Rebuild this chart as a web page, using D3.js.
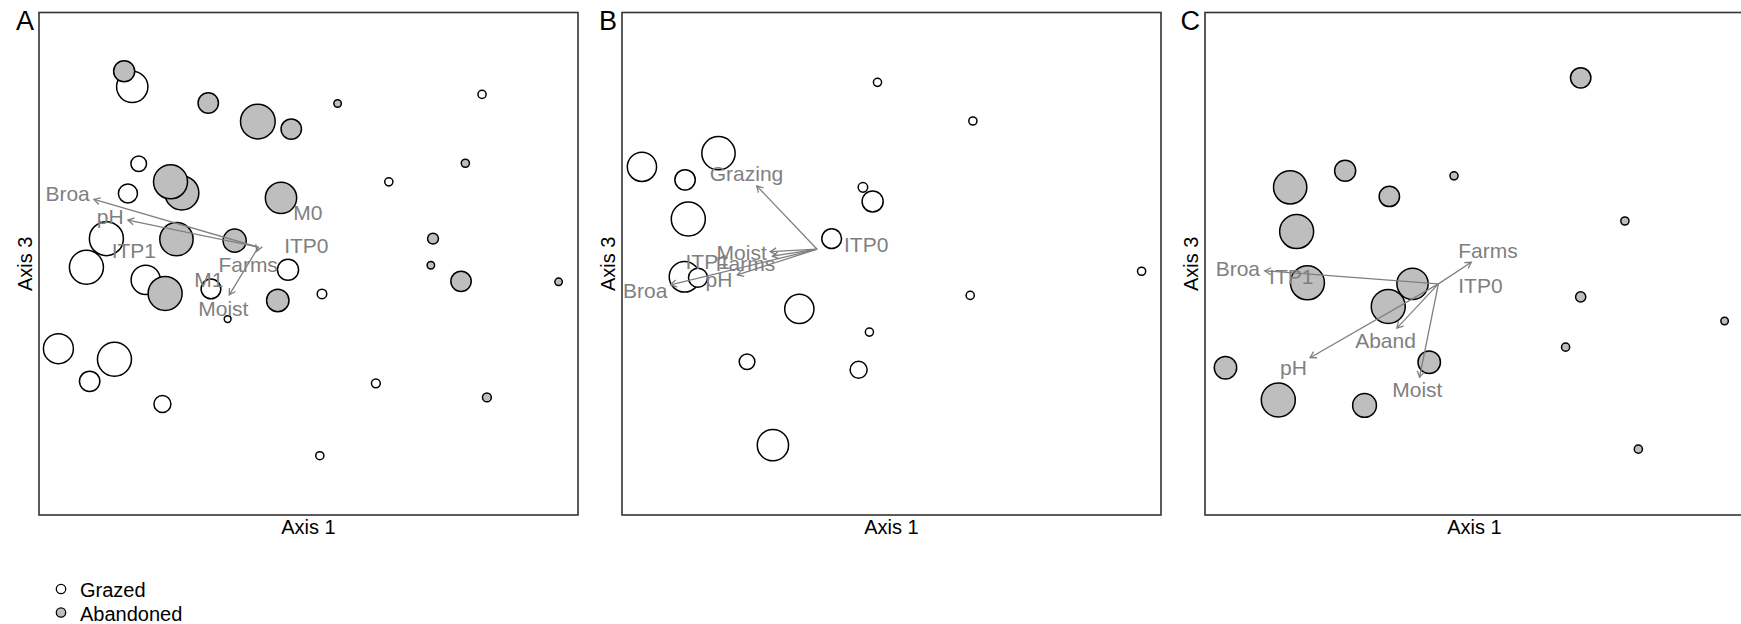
<!DOCTYPE html>
<html>
<head>
<meta charset="utf-8">
<script src="https://cdn.jsdelivr.net/npm/d3@7"></script>
<style>
  html, body { margin: 0; padding: 0; background: #fff; }
  svg { display: block; font-family: "Liberation Sans", Arial, sans-serif; }
</style>
</head>
<body>
<div id="chart"></div>
<script>
// sites: [axis1, axis3, size (cex), group]  G = grazed, A = abandoned
const sitesA = [
  [15.8, 88.3, 3.1, "A"], [17.3, 85.2, 4.6, "G"], [31.4, 82.0, 3.0, "A"],
  [40.6, 78.3, 5.1, "A"], [46.8, 76.8, 3.0, "A"], [55.4, 81.9, 1.1, "A"],
  [82.2, 83.7, 1.2, "G"], [18.5, 69.9, 2.3, "G"], [26.5, 64.1, 5.0, "A"],
  [24.4, 66.3, 5.0, "A"], [16.5, 64.0, 2.8, "G"], [44.9, 63.1, 4.6, "A"],
  [64.9, 66.3, 1.2, "G"], [79.1, 70.0, 1.2, "A"], [12.5, 55.0, 5.0, "G"],
  [25.5, 54.9, 4.9, "A"], [36.3, 54.6, 3.4, "A"], [73.1, 55.0, 1.6, "A"],
  [8.8, 49.3, 5.0, "G"], [19.8, 46.8, 4.3, "G"], [46.2, 48.8, 3.1, "G"],
  [72.7, 49.7, 1.1, "A"], [78.3, 46.5, 3.0, "A"], [96.4, 46.4, 1.1, "A"],
  [23.4, 44.1, 5.0, "A"], [31.9, 45.0, 2.9, "G"], [44.3, 42.7, 3.3, "A"],
  [52.5, 44.0, 1.4, "G"], [35.0, 39.0, 1.0, "G"], [3.6, 33.1, 4.4, "G"],
  [14.0, 31.0, 5.0, "G"], [9.4, 26.6, 3.0, "G"], [22.9, 22.1, 2.5, "G"],
  [62.5, 26.2, 1.3, "G"], [83.1, 23.4, 1.3, "A"], [52.1, 11.8, 1.2, "G"]
];
const sitesB = [
  [47.4, 86.1, 1.2, "G"], [65.1, 78.4, 1.2, "G"], [17.9, 72.0, 4.9, "G"],
  [3.7, 69.3, 4.3, "G"], [11.7, 66.7, 3.0, "G"], [44.7, 65.2, 1.4, "G"],
  [46.5, 62.4, 3.1, "G"], [12.3, 58.9, 5.0, "G"], [38.9, 55.0, 2.9, "G"],
  [11.6, 47.4, 4.5, "G"], [14.1, 47.2, 2.8, "G"], [96.4, 48.5, 1.2, "G"],
  [64.6, 43.7, 1.2, "G"], [32.9, 41.0, 4.3, "G"], [45.9, 36.4, 1.2, "G"],
  [23.2, 30.5, 2.3, "G"], [43.9, 28.9, 2.5, "G"], [28.0, 13.9, 4.6, "G"]
];
const sitesC = [
  [69.7, 87.0, 3.0, "A"], [26.0, 68.5, 3.1, "A"], [46.2, 67.5, 1.2, "A"],
  [15.8, 65.2, 4.9, "A"], [34.2, 63.4, 3.0, "A"], [77.9, 58.5, 1.2, "A"],
  [17.0, 56.4, 5.0, "A"], [19.0, 46.2, 5.0, "A"], [38.5, 46.0, 4.6, "A"],
  [69.7, 43.4, 1.5, "A"], [34.0, 41.5, 5.0, "A"], [96.4, 38.6, 1.1, "A"],
  [66.9, 33.4, 1.2, "A"], [3.8, 29.3, 3.3, "A"], [41.6, 30.4, 3.3, "A"],
  [13.6, 22.9, 5.0, "A"], [29.6, 21.8, 3.5, "A"], [80.4, 13.1, 1.2, "A"]
];

// fitted vectors: [name, tipX, tipY, labelX, labelY]
const vectorsA = [
  ["Broa", 10.2, 62.8, 5.3, 64.0], ["pH", 16.5, 58.7, 13.2, 59.4],
  ["Farms", 40.4, 52.5, 38.8, 49.8], ["Moist", 35.3, 43.8, 34.2, 41.1]
];
const vectorsB = [
  ["Grazing", 25.0, 65.5, 23.1, 67.9], ["Moist", 27.5, 52.4, 22.2, 52.2],
  ["Farms", 27.9, 51.5, 22.9, 50.1], ["pH", 21.4, 47.8, 18.0, 46.9],
  ["Broa", 9.0, 45.8, 4.3, 44.7]
];
const vectorsC = [
  ["Farms", 49.4, 50.3, 52.5, 52.6], ["Broa", 11.1, 48.6, 6.1, 49.0],
  ["Aband", 35.6, 37.2, 33.5, 34.7], ["pH", 19.5, 31.3, 16.4, 29.4],
  ["Moist", 39.8, 27.4, 39.4, 24.9]
];
// factor centroids: [name, x, y]
const centroidsA = [["M0", 49.9, 60.2], ["ITP0", 49.6, 53.7], ["M1", 31.5, 46.9], ["ITP1", 17.6, 52.7]];
const centroidsB = [["ITP1", 15.9, 50.4], ["ITP0", 45.3, 53.9]];
const centroidsC = [["ITP1", 16.0, 47.4], ["ITP0", 51.1, 45.6]];
const origins = [[40.7, 53.3], [36.2, 52.9], [43.3, 46.0]];

const panelNames = ["A", "B", "C"];
const legendLabels = ["Grazed", "Abandoned"];

const W = 1741, H = 624;
const panelLefts = [39, 622, 1205];
const panelW = 539, plotTop = 12.5, plotBottom = 515;
const labelGray = "#7f7f7f";
const fills = { G: "#ffffff", A: "#bebebe" };

const svg = d3.select("#chart").append("svg")
  .attr("width", W).attr("height", H);

const sizeScale = d3.scaleLinear().domain([0, 5]).range([0, 17]);

const panels = [
  { sites: sitesA, vectors: vectorsA, cents: centroidsA },
  { sites: sitesB, vectors: vectorsB, cents: centroidsB },
  { sites: sitesC, vectors: vectorsC, cents: centroidsC }
];

function arrowHead(x1, y1, x2, y2, len) {
  const a = Math.atan2(y2 - y1, x2 - x1);
  const s = Math.PI / 6;
  return `M${x2 - len * Math.cos(a - s)},${y2 - len * Math.sin(a - s)}L${x2},${y2}L${x2 - len * Math.cos(a + s)},${y2 - len * Math.sin(a + s)}`;
}

panels.forEach((p, i) => {
  const left = panelLefts[i];
  const x = d3.scaleLinear().domain([0, 100]).range([left, left + panelW]);
  const y = d3.scaleLinear().domain([0, 100]).range([plotBottom, plotTop]);
  const g = svg.append("g");

  // frame
  g.append("rect")
    .attr("x", left).attr("y", plotTop)
    .attr("width", panelW).attr("height", plotBottom - plotTop)
    .attr("fill", "none").attr("stroke", "#333").attr("stroke-width", 1.6);

  // panel letter
  g.append("text")
    .attr("x", left - 5).attr("y", 30)
    .attr("text-anchor", "end")
    .attr("font-size", 27).attr("fill", "#000")
    .text(panelNames[i]);

  // axis titles
  g.append("text")
    .attr("x", left + panelW / 2).attr("y", 534)
    .attr("text-anchor", "middle").attr("font-size", 20)
    .text("Axis 1");
  g.append("text")
    .attr("transform", `translate(${left - 7},${(plotTop + plotBottom) / 2}) rotate(-90)`)
    .attr("text-anchor", "middle").attr("font-size", 20)
    .text("Axis 3");

  // sites: grazed drawn before abandoned
  const ordered = p.sites.filter(d => d[3] === "G").concat(p.sites.filter(d => d[3] === "A"));
  g.selectAll("circle.site")
    .data(ordered)
    .enter()
    .append("circle")
    .attr("class", "site")
    .attr("cx", d => x(d[0]))
    .attr("cy", d => y(d[1]))
    .attr("r", d => sizeScale(d[2]))
    .attr("fill", d => fills[d[3]])
    .attr("stroke", "#000")
    .attr("stroke-width", 1.5);

  // vectors
  const o = origins[i];
  const vg = g.append("g").attr("stroke", labelGray).attr("stroke-width", 1.3).attr("fill", "none");
  p.vectors.forEach(v => {
    const x1 = x(o[0]), y1 = y(o[1]), x2 = x(v[1]), y2 = y(v[2]);
    vg.append("line").attr("x1", x1).attr("y1", y1).attr("x2", x2).attr("y2", y2);
    vg.append("path").attr("d", arrowHead(x1, y1, x2, y2, 7));
  });

  // labels
  const labels = p.vectors.map(v => [v[0], v[3], v[4]]).concat(p.cents);
  g.selectAll("text.lab")
    .data(labels)
    .enter()
    .append("text")
    .attr("class", "lab")
    .attr("x", d => x(d[1]))
    .attr("y", d => y(d[2]))
    .attr("text-anchor", "middle")
    .attr("dominant-baseline", "central")
    .attr("font-size", 21)
    .attr("fill", labelGray)
    .text(d => d[0]);
});

// legend
const legend = svg.append("g");
legendLabels.forEach((lab, i) => {
  const cy = 589 + i * 23.5;
  legend.append("circle")
    .attr("cx", 61).attr("cy", cy).attr("r", 4.7)
    .attr("fill", i === 0 ? fills.G : fills.A)
    .attr("stroke", "#000").attr("stroke-width", 1.3);
  legend.append("text")
    .attr("x", 80).attr("y", cy + 8)
    .attr("font-size", 20)
    .text(lab);
});
</script>
</body>
</html>
